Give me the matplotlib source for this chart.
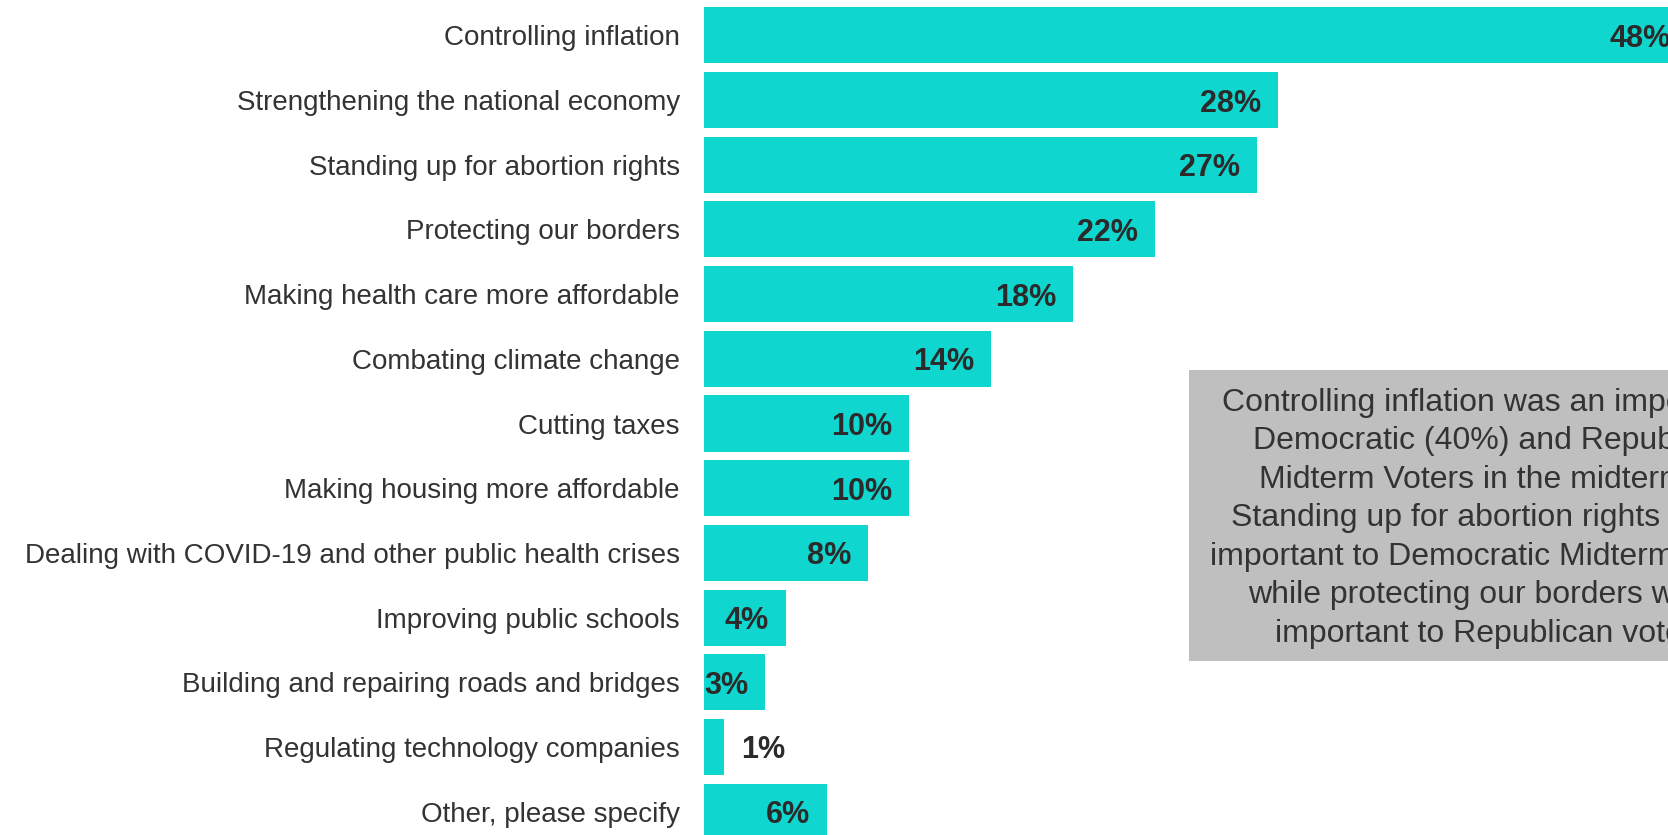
import matplotlib as mpl

mpl.use("agg")

import matplotlib.pyplot as plt
from matplotlib.patches import Rectangle

categories = [
    "Controlling inflation",
    "Strengthening the national economy",
    "Standing up for abortion rights",
    "Protecting our borders",
    "Making health care more affordable",
    "Combating climate change",
    "Cutting taxes",
    "Making housing more affordable",
    "Dealing with COVID-19 and other public health crises",
    "Improving public schools",
    "Building and repairing roads and bridges",
    "Regulating technology companies",
    "Other, please specify",
]
values = [48, 28, 27, 22, 18, 14, 10, 10, 8, 4, 3, 1, 6]

note_lines = [
    "Controlling inflation was an important issue to",
    "Democratic (40%) and Republican (56%)",
    "Midterm Voters in the midterm elections.",
    "Standing up for abortion rights was the most",
    "important to Democratic Midterm Voters (46%),",
    "while protecting our borders was the most",
    "important to Republican voters (38%).",
]

BAR_COLOR = "#0FD6CF"
TEXT_COLOR = "#333333"
VALUE_COLOR = "#2B2B2B"
BOX_COLOR = "#BFBFBF"
DPI = 100
W, H = 1668, 835

plt.rcParams["font.family"] = ["Liberation Sans", "DejaVu Sans"]

fig = plt.figure(figsize=(W / DPI, H / DPI), dpi=DPI)
fig.patch.set_facecolor("white")

# the original is cropped: axes run past the right and bottom edges
ax = fig.add_axes([704 / W, 1 - 844 / H, 1024.5 / W, 841 / H])

ypos = list(range(len(categories)))
ax.barh(ypos, values, height=0.866, color=BAR_COLOR)
ax.set_xlim(0, 50)
ax.set_ylim(len(categories) - 0.5, -0.5)

for y, v in zip(ypos, values):
    # tiny bars get their label outside
    if v >= 3:
        offset, ha = -12.2, "right"
    else:
        offset, ha = 12.2, "left"
    ax.annotate(
        f"{v}%",
        xy=(v, y),
        xytext=(offset, 0),
        textcoords="offset points",
        ha=ha,
        va="center_baseline",
        fontsize=22,
        fontweight="bold",
        color=VALUE_COLOR,
        annotation_clip=False,
    )

ax.set_yticks(ypos, categories)
ax.tick_params(axis="y", length=0, pad=17.3, labelsize=20, labelcolor=TEXT_COLOR)
ax.set_xticks([])
for side in ["top", "right", "bottom", "left"]:
    ax.spines[side].set_visible(False)

# callout box, also cut off by the right edge
box_left, box_top, box_bottom = 1189, 370, 660.7
fig.add_artist(
    Rectangle(
        (box_left / W, 1 - box_bottom / H),
        710 / W,
        (box_bottom - box_top) / H,
        transform=fig.transFigure,
        facecolor=BOX_COLOR,
        edgecolor="none",
    )
)
fig.text(
    1544 / W,
    1 - ((box_top + box_bottom) / 2 + 3) / H,
    "\n".join(note_lines),
    ha="center",
    va="center",
    multialignment="center",
    fontsize=23,
    linespacing=1.37,
    color=TEXT_COLOR,
)

fig.savefig("out.png", dpi=DPI)
